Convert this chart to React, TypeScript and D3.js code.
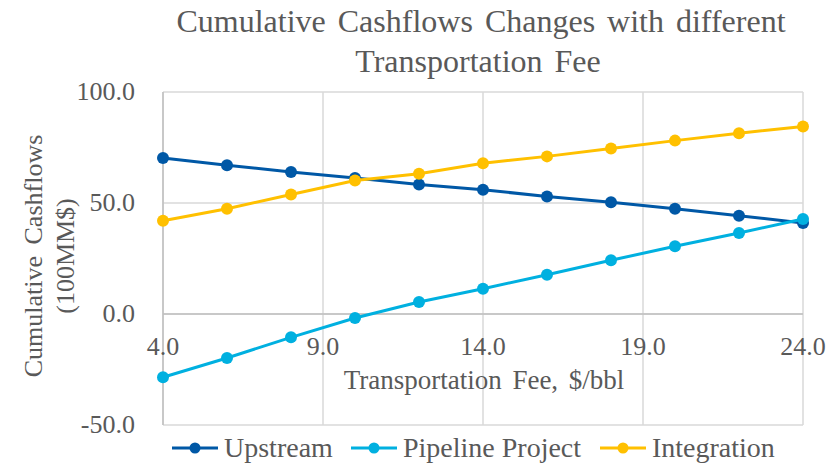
import React, { useEffect, useRef } from "react";
import * as d3 from "d3";

const fees = [4, 6, 8, 10, 12, 14, 16, 18, 20, 22, 24];
const upstream = [70.3, 67.0, 64.0, 61.3, 58.3, 56.0, 52.9, 50.3, 47.4, 44.3, 41.0];
const pipeline = [-28.5, -19.8, -10.5, -1.8, 5.4, 11.4, 17.7, 24.2, 30.5, 36.5, 42.8];
const integration = [42.0, 47.4, 53.8, 60.1, 63.2, 67.9, 71.0, 74.5, 78.1, 81.4, 84.5];
const xTicks = [4, 9, 14, 19, 24];
const yTicks = [-50, 0, 50, 100];

const seriesList = [
  { name: "Upstream", values: upstream, color: "#0058a6" },
  { name: "Pipeline Project", values: pipeline, color: "#00b0e0" },
  { name: "Integration", values: integration, color: "#ffc000" },
];

const W = 836;
const H = 465;
const FONT = "'Liberation Serif', 'Times New Roman', serif";
const TXT = "#595959";

// excel style, plain hyphen for negatives
const fmt = (d: number) => d.toFixed(1);

export default function App() {
  const ref = useRef<SVGSVGElement>(null);

  useEffect(() => {
    const svg = d3.select(ref.current);
    svg.selectAll("*").remove();

    const x = d3.scaleLinear().domain([4, 24]).range([163, 803]);
    const y = d3.scaleLinear().domain([-50, 100]).range([425, 92]);

    svg.append("rect").attr("width", W).attr("height", H).attr("fill", "#fff");

    // title
    const title = svg.append("text")
      .attr("text-anchor", "middle")
      .attr("font-family", FONT)
      .attr("font-size", 32)
      .attr("fill", TXT)
      .attr("word-spacing", 4);
    title.append("tspan").attr("x", 481).attr("y", 32).text("Cumulative Cashflows Changes with different");
    title.append("tspan").attr("x", 478).attr("y", 72).text("Transportation Fee");

    // grid
    const grid = svg.append("g");
    grid.selectAll("line.h")
      .data(yTicks)
      .join("line")
      .attr("x1", x(4)).attr("x2", x(24))
      .attr("y1", (d) => y(d)).attr("y2", (d) => y(d))
      .attr("stroke", "#d9d9d9").attr("stroke-width", 1.5);
    grid.selectAll("line.v")
      .data(xTicks)
      .join("line")
      .attr("x1", (d) => x(d)).attr("x2", (d) => x(d))
      .attr("y1", y(100)).attr("y2", y(-50))
      .attr("stroke", "#d9d9d9").attr("stroke-width", 1.5);

    // y axis line & x axis at 0
    svg.append("line")
      .attr("x1", x(4)).attr("x2", x(4)).attr("y1", y(100)).attr("y2", y(-50))
      .attr("stroke", "#bfbfbf").attr("stroke-width", 1.5);
    svg.append("line")
      .attr("x1", x(4)).attr("x2", x(24)).attr("y1", y(0)).attr("y2", y(0))
      .attr("stroke", "#bfbfbf").attr("stroke-width", 1.5);

    // tick labels
    svg.append("g").selectAll("text")
      .data(yTicks)
      .join("text")
      .attr("x", 135)
      .attr("y", (d) => y(d) + 8)
      .attr("text-anchor", "end")
      .attr("font-family", FONT).attr("font-size", 26).attr("fill", TXT)
      .text(fmt);
    svg.append("g").selectAll("text")
      .data(xTicks)
      .join("text")
      .attr("x", (d) => x(d))
      .attr("y", y(0) + 41)
      .attr("text-anchor", "middle")
      .attr("font-family", FONT).attr("font-size", 26).attr("fill", TXT)
      .text(fmt);

    // axis titles
    svg.append("text")
      .attr("x", 484).attr("y", 389)
      .attr("text-anchor", "middle")
      .attr("font-family", FONT).attr("font-size", 27).attr("fill", TXT)
      .attr("word-spacing", 4)
      .text("Transportation Fee, $/bbl");
    const yt = svg.append("text")
      .attr("transform", "translate(0,256) rotate(-90)")
      .attr("text-anchor", "middle")
      .attr("font-family", FONT).attr("font-size", 26).attr("fill", TXT)
      .attr("word-spacing", 5);
    yt.append("tspan").attr("x", 0).attr("y", 42).text("Cumulative Cashflows");
    yt.append("tspan").attr("x", 0).attr("y", 74).text("(100MM$)");

    // lines
    const line = d3.line<number>()
      .x((_, i) => x(fees[i]))
      .y((d) => y(d));
    seriesList.forEach((s) => {
      svg.append("path")
        .attr("d", line(s.values))
        .attr("fill", "none")
        .attr("stroke", s.color)
        .attr("stroke-width", 3);
      svg.append("g").selectAll("circle")
        .data(s.values)
        .join("circle")
        .attr("cx", (_, i) => x(fees[i]))
        .attr("cy", (d) => y(d))
        .attr("r", 6)
        .attr("fill", s.color);
    });

    // legend
    const legendX = [172, 351, 600];
    seriesList.forEach((s, i) => {
      const g = svg.append("g").attr("transform", `translate(${legendX[i]},448)`);
      g.append("line").attr("x1", 0).attr("x2", 46).attr("y1", 0).attr("y2", 0)
        .attr("stroke", s.color).attr("stroke-width", 3);
      g.append("circle").attr("cx", 23).attr("cy", 0).attr("r", 5.5).attr("fill", s.color);
      g.append("text").attr("x", 52).attr("y", 9)
        .attr("font-family", FONT).attr("font-size", 28).attr("fill", TXT)
        .text(s.name);
    });
  }, []);

  return (
    <svg
      ref={ref}
      width={W}
      height={H}
      style={{ position: "absolute", left: 0, top: 0 }}
    />
  );
}
